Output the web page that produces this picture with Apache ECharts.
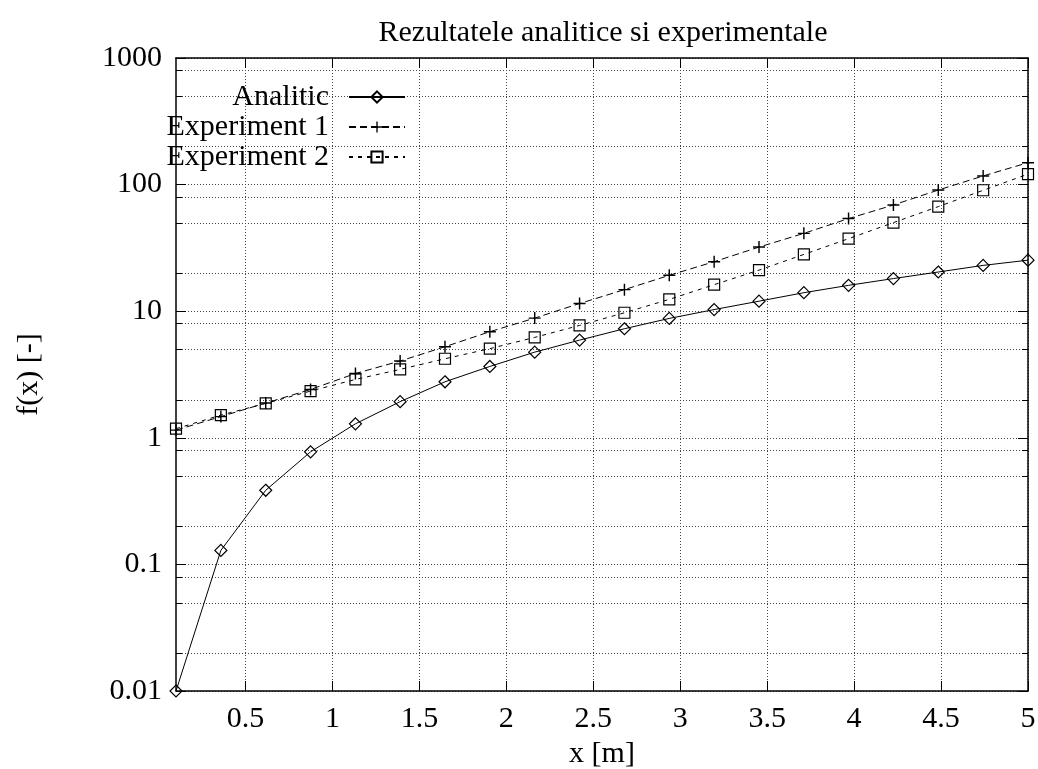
<!DOCTYPE html>
<html>
<head>
<meta charset="utf-8">
<script src="https://cdn.jsdelivr.net/npm/echarts@6/dist/echarts.min.js"></script>
<style>
  html, body { margin: 0; padding: 0; background: #fff; }
  #chart { width: 1038px; height: 769px; }
</style>
</head>
<body>
<div id="chart"></div>
<script>
// valori
let xValues = [0.1, 0.358, 0.616, 0.874, 1.132, 1.389, 1.647, 1.905, 2.163, 2.421,
  2.679, 2.937, 3.195, 3.453, 3.711, 3.968, 4.226, 4.484, 4.742, 5.0]
let analitic = [0.01, 0.129, 0.385, 0.775, 1.29, 1.93, 2.77, 3.66, 4.75, 5.91,
  7.27, 8.77, 10.3, 12.0, 14.0, 16.0, 18.1, 20.4, 23.0, 25.3]
let experiment1 = [1.15, 1.47, 1.88, 2.41, 3.22, 4.04, 5.24, 6.89, 8.82, 11.5,
  14.8, 19.2, 24.6, 32.1, 41.2, 53.9, 69.0, 90.6, 117, 149]
let experiment2 = [1.18, 1.51, 1.87, 2.34, 2.89, 3.47, 4.21, 5.06, 6.21, 7.72,
  9.72, 12.4, 16.2, 21.1, 28.1, 37.4, 50.1, 67.0, 90.2, 121]
let xTicks = [0.5, 1, 1.5, 2, 2.5, 3, 3.5, 4, 4.5, 5]
// linii minore ale grilei (2, 5, 8 pe fiecare decada)
let yMinor = [0.02, 0.05, 0.08, 0.2, 0.5, 0.8, 2, 5, 8, 20, 50, 80, 200, 500, 800]

let FONT = 'Liberation Serif'
let chart = echarts.init(document.getElementById('chart'))

function pairs(ys) {
  return xValues.map(function (x, i) {
    return [x, ys[i]]
  })
}

let gridLine = { color: '#444', width: 1, type: [1, 2] }
let frame = { show: true, onZero: false, lineStyle: { color: '#000', width: 1.5 } }

chart.setOption({
  backgroundColor: '#fff',
  animation: false,
  title: {
    text: 'Rezultatele analitice si experimentale',
    left: 598,
    top: 13,
    textAlign: 'center',
    textStyle: { fontFamily: FONT, fontSize: 30, fontWeight: 'normal', color: '#000' }
  },
  grid: { left: 176, right: 10, top: 58, bottom: 78, outerBoundsMode: 'none' },
  legend: {
    data: ['Analitic', 'Experiment 1', 'Experiment 2'],
    orient: 'vertical',
    align: 'right',
    right: 632,
    top: 82,
    padding: 0,
    itemGap: 0,
    itemWidth: 56,
    itemHeight: 14,
    selectedMode: false,
    textStyle: { fontFamily: FONT, fontSize: 30, color: '#000', lineHeight: 28, padding: [0, 15, 0, 0] }
  },
  xAxis: [{
    type: 'value',
    min: 0.1,
    max: 5,
    name: 'x [m]',
    nameLocation: 'middle',
    nameGap: 34,
    nameTextStyle: { fontFamily: FONT, fontSize: 30, color: '#000' },
    axisLine: frame,
    axisTick: { inside: true, length: 10, customValues: xTicks, lineStyle: { color: '#000' } },
    axisLabel: { customValues: xTicks, margin: 13, fontFamily: FONT, fontSize: 30, color: '#000' },
    splitLine: { show: true, lineStyle: gridLine }
  }, {
    type: 'value',
    min: 0.1,
    max: 5,
    position: 'top',
    axisLine: frame,
    axisTick: { inside: true, length: 10, customValues: xTicks, lineStyle: { color: '#000' } },
    axisLabel: { show: false },
    splitLine: { show: false }
  }],
  yAxis: [{
    type: 'log',
    logBase: 10,
    min: 0.01,
    max: 1000,
    name: 'f(x) [-]',
    nameLocation: 'middle',
    nameGap: 132,
    nameTextStyle: { fontFamily: FONT, fontSize: 30, color: '#000' },
    axisLine: frame,
    axisTick: { inside: true, length: 10, lineStyle: { color: '#000' } },
    axisLabel: {
      margin: 14,
      fontFamily: FONT,
      fontSize: 30,
      color: '#000',
      formatter: function (v) {
        return String(parseFloat(Number(v).toPrecision(6)))
      }
    },
    splitLine: { show: true, lineStyle: gridLine }
  }, {
    type: 'log',
    logBase: 10,
    min: 0.01,
    max: 1000,
    position: 'right',
    axisLine: frame,
    axisTick: { inside: true, length: 10, lineStyle: { color: '#000' } },
    axisLabel: { show: false },
    splitLine: { show: false }
  }],
  series: [{
    // grila minora si gradatiile minore de pe axele verticale
    type: 'custom',
    silent: true,
    z: 1,
    data: yMinor.map(function (v) {
      return [xValues[0], v]
    }),
    renderItem: function (params, api) {
      let y = Math.round(api.coord([api.value(0), api.value(1)])[1]) + 0.5
      let cs = params.coordSys
      let x0 = cs.x
      let x1 = cs.x + cs.width
      return {
        type: 'group',
        children: [{
          type: 'line',
          shape: { x1: x0, y1: y, x2: x1, y2: y },
          style: { stroke: '#444', lineWidth: 1, lineDash: [1, 2] }
        }, {
          type: 'line',
          shape: { x1: x0, y1: y, x2: x0 + 6, y2: y },
          style: { stroke: '#000', lineWidth: 1 }
        }, {
          type: 'line',
          shape: { x1: x1 - 6, y1: y, x2: x1, y2: y },
          style: { stroke: '#000', lineWidth: 1 }
        }]
      }
    }
  }, {
    name: 'Experiment 2',
    type: 'line',
    z: 3,
    data: pairs(experiment2),
    symbol: 'rect',
    symbolSize: 11,
    lineStyle: { color: '#000', width: 1, type: [4, 5] },
    itemStyle: { color: 'rgba(0,0,0,0)', borderColor: '#000', borderWidth: 1.2 }
  }, {
    name: 'Experiment 1',
    type: 'line',
    z: 4,
    data: pairs(experiment1),
    symbol: 'path://M4.4,0H5.6V4.4H10V5.6H5.6V10H4.4V5.6H0V4.4H4.4Z',
    symbolSize: 12,
    lineStyle: { color: '#000', width: 1, type: [7, 4] },
    itemStyle: { color: '#000', borderWidth: 0 }
  }, {
    name: 'Analitic',
    type: 'line',
    z: 5,
    data: pairs(analitic),
    symbol: 'diamond',
    symbolSize: 12,
    lineStyle: { color: '#000', width: 1 },
    itemStyle: { color: 'rgba(0,0,0,0)', borderColor: '#000', borderWidth: 1.2 }
  }]
})
</script>
</body>
</html>
